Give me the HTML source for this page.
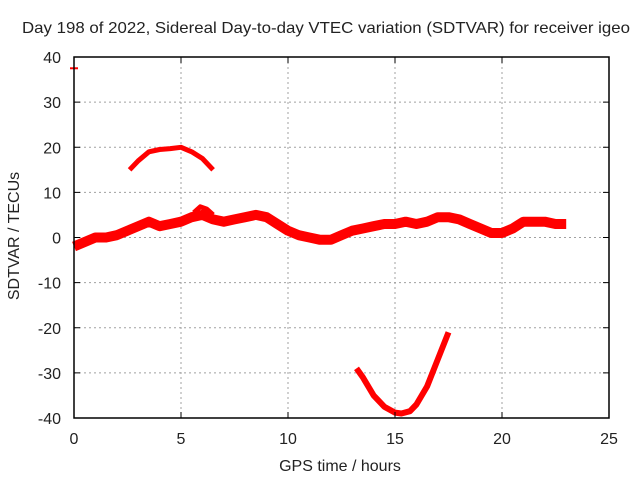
<!DOCTYPE html>
<html><head><meta charset="utf-8"><style>
body{margin:0;background:#fff}
svg text{font-family:"Liberation Sans",sans-serif;font-size:16px;fill:#222}
</style></head><body>
<svg id="c" width="640" height="480">
<text x="22" y="33" textLength="608" lengthAdjust="spacingAndGlyphs">Day 198 of 2022, Sidereal Day-to-day VTEC variation (SDTVAR) for receiver igeo</text>
<text x="340" y="471" text-anchor="middle">GPS time / hours</text>
<text transform="translate(19,236) rotate(-90)" text-anchor="middle">SDTVAR / TECUs</text>
<g id="grid"></g><g id="data"></g><g id="axes"></g>
</svg>
<script>
const xTicks=[0,5,10,15,20,25];
const yTicks=[-40,-30,-20,-10,0,10,20,30,40];
const mainHours=[0,0.5,1,1.5,2,2.5,3,3.5,4,4.5,5,5.5,6,6.5,7,7.5,8,8.5,9,9.5,10,10.5,11,11.5,12,12.5,13,13.5,14,14.5,15,15.5,16,16.5,17,17.5,18,18.5,19,19.5,20,20.5,21,21.5,22,22.5,23];
const mainVals=[-2,-1,0,0,0.5,1.5,2.5,3.5,2.5,3,3.5,4.5,5,4,3.5,4,4.5,5,4.5,3,1.5,0.5,0,-0.5,-0.5,0.5,1.5,2,2.5,3,3,3.5,3,3.5,4.5,4.5,4,3,2,1,1,2,3.5,3.5,3.5,3,3];
const bumpHours=[5.6,5.9,6.2,6.5];
const bumpVals=[5.5,6.8,6.3,5];
const arcHours=[2.6,3,3.5,4,4.5,5,5.5,6,6.5];
const arcVals=[15,17,19,19.5,19.7,20,19,17.5,15];
const lowHours=[13.2,13.5,14,14.5,15,15.3,15.7,16,16.5,17,17.5];
const lowVals=[-29,-31,-35,-37.5,-38.8,-39,-38.5,-37,-33,-27,-21];
const X0=74,X1=609,Y0=418,Y1=57;
const sx=v=>X0+(v-0)/25*(X1-X0);
const sy=v=>Y0-(v+40)/80*(Y0-Y1);
const NS="http://www.w3.org/2000/svg";
function mk(t,a,p){const e=document.createElementNS(NS,t);for(const k in a)e.setAttribute(k,a[k]);p.appendChild(e);return e;}
const grid=document.getElementById('grid'),axes=document.getElementById('axes'),data=document.getElementById('data');
xTicks.forEach(t=>{
 if(t>0&&t<25){const g=mk('line',{x1:sx(t),x2:sx(t),y1:Y1,y2:Y0,stroke:'#a0a0a0','stroke-dasharray':'2,3'},grid);
 }
 mk('line',{x1:sx(t),x2:sx(t),y1:Y0,y2:Y0-6,stroke:'#000'},axes);
 mk('line',{x1:sx(t),x2:sx(t),y1:Y1,y2:Y1+6,stroke:'#000'},axes);
 const l=mk('text',{x:sx(t),y:Y0+26,'text-anchor':'middle'},axes);l.textContent=t;
 
});
yTicks.forEach(t=>{
 if(t>-40&&t<40){const g=mk('line',{x1:X0,x2:X1,y1:sy(t),y2:sy(t),stroke:'#a0a0a0','stroke-dasharray':'2,3'},grid);
 }
 mk('line',{x1:X0,x2:X0+6,y1:sy(t),y2:sy(t),stroke:'#000'},axes);
 mk('line',{x1:X1,x2:X1-6,y1:sy(t),y2:sy(t),stroke:'#000'},axes);
 const l=mk('text',{x:X0-13,y:sy(t)+6,'text-anchor':'end'},axes);l.textContent=t;
 
});
const b=mk('rect',{x:X0,y:Y1,width:X1-X0,height:Y0-Y1,fill:'none',stroke:'#000','stroke-width':1.5},axes);

function series(hs,vs,w,name){
 const pts=hs.map((h,i)=>sx(h).toFixed(1)+','+sy(vs[i]).toFixed(1)).join(' ');
 const p=mk('polyline',{points:pts,fill:'none',stroke:'#f00','stroke-width':w,'stroke-linejoin':'round','stroke-linecap':'butt'},data);
 
}
series(mainHours,mainVals,10,'sdtvar-main-series');
series(bumpHours,bumpVals,5,'sdtvar-bump-series');
series(arcHours,arcVals,5,'sdtvar-upper-arc');
series(lowHours,lowVals,6,'sdtvar-lower-arc');
const o=mk('line',{x1:sx(0)-4,x2:sx(0)+4,y1:sy(37.5),y2:sy(37.5),stroke:'#f00','stroke-width':2},data);

</script>
</body></html>
